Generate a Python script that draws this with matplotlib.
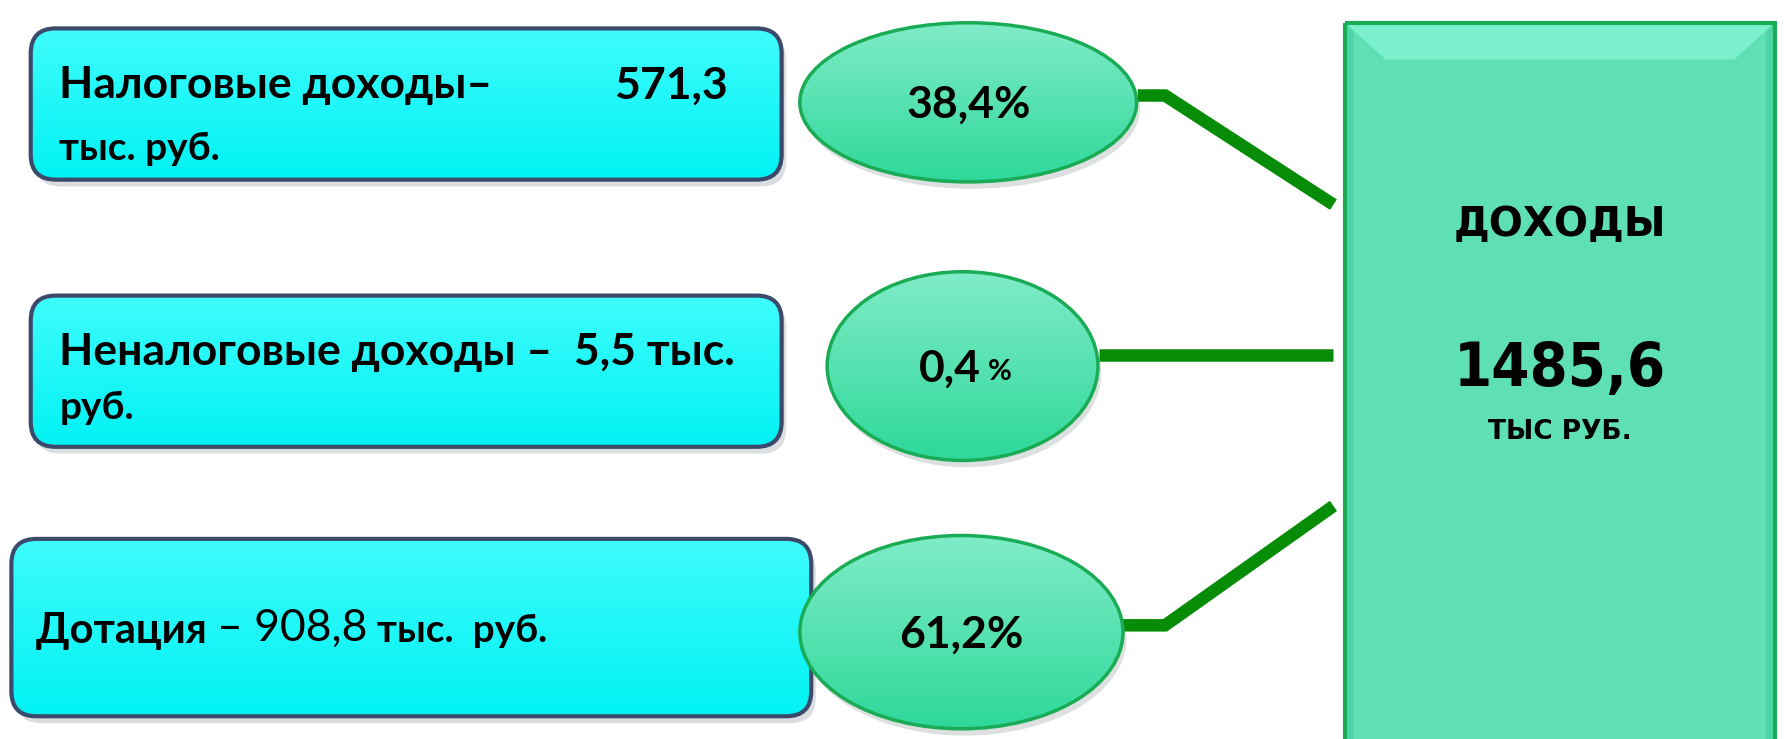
import numpy as np
import matplotlib.pyplot as plt
from matplotlib.colors import to_rgb
from matplotlib.patches import FancyBboxPatch, Ellipse, Rectangle, Polygon

# Данные
labels = ["Налоговые доходы", "Неналоговые доходы", "Дотация"]
values = [571.3, 5.5, 908.8]
shares = ["38,4%", "0,4 %", "61,2%"]
total = 1485.6
unit = "тыс. руб."

def fmt(v):
    return f"{v:.1f}".replace(".", ",")

W, H = 1568, 650
fig = plt.figure(figsize=(17.84, 7.39), dpi=100)
ax = fig.add_axes([0, 0, 1, 1])
ax.set_xlim(0, W)
ax.set_ylim(H, 0)
ax.axis("off")

font = "Lato"
edge_box = "#3b4a6b"
green_fill = "#5ee0b4"
green_edge = "#1aab55"
line_col = "#078c07"


def grad_patch(patch, c_top, c_bot, extent):
    # градиентная заливка, обрезанная по фигуре
    ax.add_patch(patch)
    x0, x1, y0, y1 = extent
    t = np.linspace(0, 1, 256)[:, None, None]
    a = np.array(to_rgb(c_top))
    b = np.array(to_rgb(c_bot))
    img = a * (1 - t) + b * t
    img = np.repeat(img, 2, axis=1)
    im = ax.imshow(img, extent=[x0, x1, y1, y0], aspect="auto", zorder=patch.get_zorder(),
                   interpolation="bilinear")
    im.set_clip_path(patch)


# прямоугольники слева
boxes = [(27, 25, 660, 133), (27, 260, 660, 133), (10, 474, 703, 156)]
for (x, y, w, h) in boxes:
    ax.add_patch(FancyBboxPatch((x + 4, y + 6), w, h, boxstyle="round,pad=0,rounding_size=22",
                                fc="#9aa0a8", ec="none", alpha=0.35, zorder=1))
    p = FancyBboxPatch((x, y), w, h, boxstyle="round,pad=0,rounding_size=22",
                       fc="#08f4f4", ec="none", zorder=2)
    grad_patch(p, "#40fcfc", "#00f2f4", (x, x + w, y, y + h))
    ax.add_patch(FancyBboxPatch((x, y), w, h, boxstyle="round,pad=0,rounding_size=22",
                                fc="none", ec=edge_box, lw=3, zorder=3))

tb = dict(fontfamily=font, fontweight="bold", color="black", va="center", zorder=8)
ax.text(52, 75, labels[0] + "–", fontsize=32, ha="left", **tb)
ax.text(540, 75, fmt(values[0]), fontsize=32, ha="left", **tb)
ax.text(52, 131, unit, fontsize=28, ha="left", **tb)

ax.text(52, 310, labels[1] + " –  " + fmt(values[1]) + " тыс.", fontsize=32, ha="left", **tb)
ax.text(52, 358, "руб.", fontsize=28, ha="left", **tb)

t1 = ax.text(32, 555, labels[2] + " ", fontsize=30, ha="left", **tb)
fig.canvas.draw()
r = fig.canvas.get_renderer()
bb = t1.get_window_extent(r).transformed(ax.transData.inverted())
t2 = ax.text(bb.x1, 553, "– " + fmt(values[2]), fontsize=32, ha="left", va="center",
             fontfamily=font, color="black", zorder=8)
bb2 = t2.get_window_extent(r).transformed(ax.transData.inverted())
ax.text(bb2.x1 + 8, 555, "тыс.  руб.", fontsize=28, ha="left", **tb)

# эллипсы с долями
ells = [(851, 90, 296, 140), (846, 322, 238, 166), (845, 556, 284, 170)]
for (cx, cy, w, h), s in zip(ells, shares):
    ax.add_patch(Ellipse((cx + 3, cy + 6), w, h, fc="#a0a8a8", ec="none", alpha=0.35, zorder=4))
    e = Ellipse((cx, cy), w, h, fc=green_fill, ec="none", zorder=5)
    grad_patch(e, "#80ecc8", "#2ed89a", (cx - w / 2, cx + w / 2, cy - h / 2, cy + h / 2))
    ax.add_patch(Ellipse((cx, cy), w, h, fc="none", ec=green_edge, lw=2.5, zorder=6))
    if s == "0,4 %":
        ax.text(cx + 16, cy + 2, "0,4", fontsize=32, ha="right", **tb)
        ax.text(cx + 22, cy + 5, "%", fontsize=21, ha="left", **tb)
    else:
        ax.text(cx, cy + 2, s, fontsize=32, ha="center", **tb)

# соединительные линии
lk = dict(color=line_col, lw=9, solid_capstyle="butt", solid_joinstyle="miter", zorder=4)
ax.plot([1000, 1024, 1172], [84, 84, 180], **lk)
ax.plot([966, 1172], [312, 312], **lk)
ax.plot([985, 1024, 1172], [550, 550, 445], **lk)

# итоговый прямоугольник
rx, ry, rw, rh = 1182, 20, 378, 640
ax.add_patch(Rectangle((rx, ry), rw, rh, fc=green_fill, ec="none", zorder=2))
bev = 36
ax.add_patch(Polygon([(rx, ry), (rx + rw, ry), (rx + rw - bev, ry + bev * 0.9), (rx + bev, ry + bev * 0.9)],
                     fc="#7cf0cc", ec="none", zorder=2))
ax.add_patch(Polygon([(rx, ry), (rx + 8, ry + 8), (rx + 8, ry + rh), (rx, ry + rh)],
                     fc="#4fd6a4", ec="none", zorder=2))
ax.add_patch(Polygon([(rx + rw, ry), (rx + rw - 8, ry + 8), (rx + rw - 8, ry + rh), (rx + rw, ry + rh)],
                     fc="#4fd6a4", ec="none", zorder=2))
ax.add_patch(Rectangle((rx, ry), rw, rh, fc="none", ec=green_edge, lw=3, zorder=3))

tr = dict(fontfamily="DejaVu Sans", fontweight="bold", color="black", ha="center", va="center", zorder=8)
ax.text(1371, 198, "ДОХОДЫ", fontsize=29, **tr)
ax.text(1371, 325, fmt(total), fontsize=44, fontstretch="condensed", **tr)
ax.text(1371, 380, "ТЫС РУБ.", fontsize=19, **tr)

fig.savefig("out.png", dpi=100)
